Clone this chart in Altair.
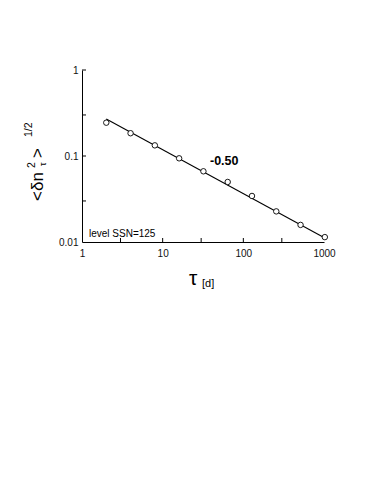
import altair as alt
import pandas as pd

# data
tau = [2, 4, 8, 16, 32, 64, 128, 256, 512, 1024]
dn = [0.244, 0.184, 0.133, 0.094, 0.0664, 0.0499, 0.0343, 0.0227, 0.0158, 0.0114]
fit_tau = [2, 1024]
fit_dn = [0.27, 0.0111]
x_ticks = [3, 10, 30, 100, 300]
y_ticks = [0.03, 0.1, 0.3, 1]
x_labels = [1, 10, 100, 1000]
y_labels = [0.01, 0.1, 1]

W, H = 242, 172
FONT = "Liberation Sans"

pts = pd.DataFrame({"tau": tau, "dn": dn})
fit = pd.DataFrame({"tau": fit_tau, "dn": fit_dn})
xt = pd.DataFrame({"tau": x_ticks})
yt = pd.DataFrame({"dn": y_ticks})

xs = alt.Scale(type="log", domain=[1, 1000], nice=False)
ys = alt.Scale(type="log", domain=[0.01, 1], nice=False)

base_x = alt.X("tau:Q", scale=xs, axis=alt.Axis(values=x_labels, format="~g", title=None,
               ticks=False, grid=False, labelPadding=6, labelFontSize=10, labelFont=FONT,
               labelColor="#111", domainColor="#000", labelFlush=False))
base_y = alt.Y("dn:Q", scale=ys, axis=alt.Axis(values=y_labels, format="~g", title=None,
               ticks=False, grid=False, labelPadding=4, labelFontSize=10, labelFont=FONT,
               labelColor="#111", domainColor="#000", labelFlush=False))

line = alt.Chart(fit).mark_line(color="black", strokeWidth=1.1, clip=False).encode(
    x=base_x, y=base_y)
points = alt.Chart(pts).mark_point(shape="circle", filled=True, fill="white", stroke="black",
                                   strokeWidth=0.9, size=30, opacity=1, clip=False).encode(
    x=alt.X("tau:Q", scale=xs), y=alt.Y("dn:Q", scale=ys))

xtick = alt.Chart(xt).mark_rule(color="black", strokeWidth=1).encode(
    x=alt.X("tau:Q", scale=xs), y=alt.value(H), y2=alt.value(H - 4))
ytick = alt.Chart(yt).mark_rule(color="black", strokeWidth=1).encode(
    y=alt.Y("dn:Q", scale=ys), x=alt.value(0), x2=alt.value(4))

def txt(s, x, y, size, angle=0, weight="normal", font=FONT):
    return alt.Chart(pd.DataFrame({"t": [s]})).mark_text(
        text=s, font=font, fontSize=size, fontWeight=weight, angle=angle,
        align="left", baseline="alphabetic", color="black").encode(
        x=alt.value(x), y=alt.value(y))

OX, OY = 74, 62  # plot origin offset inside svg (page adds 8)
def px(x):
    return x - 8 - OX
def py(y):
    return y - 8 - OY

labels = [
    txt("-0.50", px(210), py(165), 12.5, weight="bold"),
    txt("level SSN=125", px(89), py(237), 10),
    txt("τ", px(189), py(285), 21),
    txt("[d]", px(202), py(287), 11),
    # y title pieces, rotated
    txt("<δn", px(43), py(201), 17, angle=270),
    txt("2", px(35), py(168), 10.5, angle=270),
    txt("τ", px(46), py(166), 9, angle=270),
    txt(">", px(43), py(158), 17, angle=270),
    txt("1/2", px(32), py(137), 10.5, angle=270),
]

chart = alt.layer(line, points, xtick, ytick, *labels).properties(
    width=W, height=H,
    autosize=alt.AutoSizeParams(type="none"),
    padding={"left": OX, "top": OY, "right": 358 - OX - W, "bottom": 100},
).configure(background="white").configure_view(stroke=None, strokeWidth=0)

chart.save("out.html", embed_options={"renderer": "svg", "actions": False})
